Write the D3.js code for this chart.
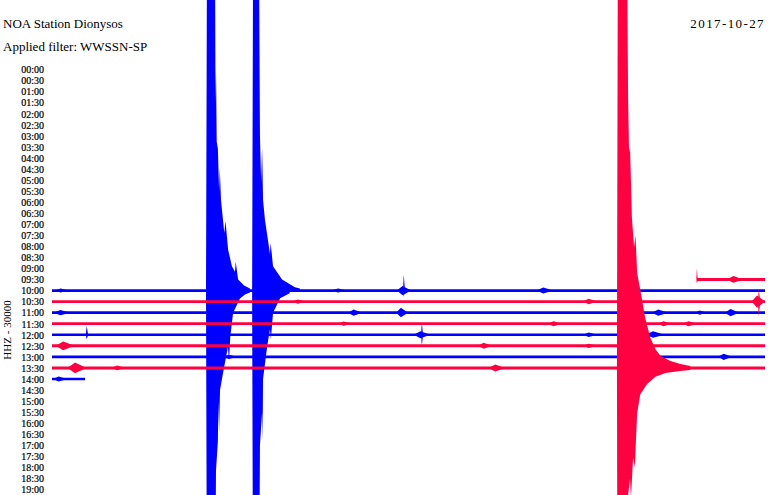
<!DOCTYPE html>
<html><head><meta charset="utf-8">
<script src="https://cdn.jsdelivr.net/npm/d3@7"></script>
<style>body{margin:0;background:#fff}svg{display:block}</style>
</head><body>
<svg id="chart" width="770" height="495"></svg>
<script>
// ---- data ----
const hourLabels = ["00:00","00:30","01:00","01:30","02:00","02:30","03:00","03:30","04:00","04:30",
  "05:00","05:30","06:00","06:30","07:00","07:30","08:00","08:30","09:00","09:30",
  "10:00","10:30","11:00","11:30","12:00","12:30","13:00","13:30","14:00","14:30",
  "15:00","15:30","16:00","16:30","17:00","17:30","18:00","18:30","19:00"];
// recorded rows (minutes into each 30-min line)
const traceRows  = ["09:30","10:00","10:30","11:00","11:30","12:00","12:30","13:00","13:30","14:00"];
const traceStart = [27.14, 0, 0, 0, 0, 0, 0, 0, 0, 0];
const traceEnd   = [30, 30, 30, 30, 30, 30, 30, 30, 30, 1.39];
const traceNoise = [125, 120, 125, 130, 125, 120, 140, 115, 135, 120]; // counts
// small bursts: [row, minute, up, down, half-width (min)]
const bursts = [
  ["09:30", 27.14, 1000, 360, 0.03], ["09:30", 28.74, 320, 300, 0.35],
  ["10:00", 0.42, 180, 180, 0.3], ["10:00", 12.1, 180, 180, 0.35], ["10:00", 14.81, 1450, 550, 0.04],
  ["10:00", 14.81, 420, 420, 0.3], ["10:00", 20.74, 280, 260, 0.35],
  ["10:30", 10.4, 190, 190, 0.3], ["10:30", 22.64, 260, 240, 0.3], ["10:30", 29.75, 1100, 1350, 0.05],
  ["10:30", 29.72, 550, 550, 0.28],
  ["11:00", 0.42, 230, 230, 0.35], ["11:00", 12.75, 280, 280, 0.3], ["11:00", 14.73, 450, 420, 0.25],
  ["11:00", 25.58, 280, 280, 0.35], ["11:00", 27.3, 200, 200, 0.25], ["11:00", 28.61, 320, 320, 0.3],
  ["11:30", 12.33, 200, 190, 0.3], ["11:30", 21.16, 220, 220, 0.3], ["11:30", 25.79, 220, 220, 0.3],
  ["11:30", 26.84, 220, 220, 0.3],
  ["12:00", 1.47, 800, 400, 0.05], ["12:00", 15.57, 1100, 1000, 0.04], ["12:00", 15.57, 320, 320, 0.35],
  ["12:00", 22.64, 200, 200, 0.3], ["12:00", 25.37, 320, 280, 0.4],
  ["12:30", 0.55, 400, 400, 0.4], ["12:30", 18.22, 270, 270, 0.3], ["12:30", 22.64, 190, 190, 0.3],
  ["13:00", 7.5, 190, 190, 0.3], ["13:00", 28.32, 280, 280, 0.3],
  ["13:30", 1.05, 480, 480, 0.4], ["13:30", 2.8, 220, 220, 0.3], ["13:30", 18.72, 320, 320, 0.35],
  ["14:00", 0.34, 220, 220, 0.3]
];
// large events: envelopes [minute, counts]
const quake1Row = "10:00";
const quake1Up   = [[6.48,0],[6.52,30000],[6.86,30000],[6.88,17000],[6.90,20000],[6.93,13500],[6.98,12800],[7.03,9000],[7.06,11000],[7.11,8200],[7.25,5200],[7.30,6300],[7.41,3700],[7.57,2200],[7.70,1700],[7.73,2600],[7.83,1000],[8.08,450],[8.33,180]];
const quake1Down = [[6.48,0],[6.52,30000],[6.86,30000],[6.90,16300],[6.98,13600],[7.00,10000],[7.03,12800],[7.07,9000],[7.15,8000],[7.40,5100],[7.45,6300],[7.50,4200],[7.62,2000],[7.91,720],[8.12,360],[8.33,180]];
const quake2Row = "10:00";
const quake2Up   = [[8.42,0],[8.46,30000],[8.71,30000],[8.75,14000],[8.80,9800],[8.84,12900],[8.88,8200],[8.96,6400],[9.09,4500],[9.17,3300],[9.20,4300],[9.30,2200],[9.68,1000],[10.22,300],[10.43,180]];
const quake2Down = [[8.42,0],[8.46,30000],[8.71,30000],[8.75,14000],[8.84,11000],[8.86,13600],[8.88,8000],[9.05,5100],[9.17,3500],[9.21,4400],[9.30,2000],[9.60,700],[10.0,250]];
const quake3Row = "13:30";
const quake3Up   = [[23.77,0],[23.81,40000],[24.19,40000],[24.24,24400],[24.28,19500],[24.32,20000],[24.40,13600],[24.49,10900],[24.55,12000],[24.62,8600],[24.75,7100],[24.96,4500],[25.18,2700],[25.39,1700],[25.60,1100],[26.02,630],[26.44,360],[26.86,180]];
const quake3Down = [[23.77,0],[23.81,40000],[24.19,40000],[24.24,11500],[24.32,10000],[24.36,11800],[24.45,8100],[24.52,9000],[24.62,4100],[24.75,2400],[25.04,1450],[25.39,810],[25.81,450],[26.44,270],[26.86,180]];

const stationTitle = "NOA Station Dionysos";
const filterText = "Applied filter: WWSSN-SP";
const dateText = "2017-10-27";
const channelText = "HHZ - 30000";

// ---- drawing ----
const BLUE = "#0000ff", RED = "#ff0040";
const colorOf = lbl => lbl.endsWith(":30") ? RED : BLUE;

const svg = d3.select("#chart");
const x = d3.scaleLinear().domain([0, 30]).range([52, 765]);
const y = d3.scalePoint().domain(hourLabels).range([69.5, 489.5]);
const amp = d3.scaleLinear().domain([0, 1000]).range([0, 11.05]);

svg.append("rect").attr("width", 770).attr("height", 495).attr("fill", "#fff");

const font = "'Liberation Serif', serif";
// row labels
const yAxis = d3.axisLeft(y).tickSize(0).tickPadding(0);
const ag = svg.append("g").attr("transform", "translate(44,0)").call(yAxis);
ag.select(".domain").remove();
ag.selectAll("text").attr("font-family", font).attr("font-size", 10)
  .attr("fill", "#000").attr("stroke", "#000").attr("stroke-width", 0.2).attr("dy", "0.33em");

svg.append("text").attr("transform", `translate(11,330) rotate(-90)`)
  .attr("text-anchor", "middle").attr("font-family", font)
  .attr("font-size", 11).attr("fill", "#000").text(channelText);

const areaUp = base => d3.area().x(d => x(d[0])).y0(base).y1(d => base - amp(d[1]));
const areaDown = base => d3.area().x(d => x(d[0])).y0(base).y1(d => base + amp(d[1]));

const quakes = [
  {row: quake1Row, up: quake1Up, down: quake1Down},
  {row: quake2Row, up: quake2Up, down: quake2Down},
  {row: quake3Row, up: quake3Up, down: quake3Down}
];

function drawRow(i) {
  const lbl = traceRows[i], base = y(lbl), col = colorOf(lbl);
  const g = svg.append("g").attr("fill", col).attr("stroke", "none");
  const n = traceNoise[i];
  // noisy baseline band
  g.append("path").attr("d", d3.area().x(d => x(d)).y0(base + amp(n)).y1(base - amp(n))([traceStart[i], traceEnd[i]]));
  // bursts (spindles)
  bursts.filter(b => b[0] === lbl).forEach(b => {
    const [_, t, u, dn, hw] = b;
    g.append("path").attr("d", areaUp(base)([[t - hw, 0], [t - hw * 0.2, u], [t + hw, 0]]));
    g.append("path").attr("d", areaDown(base)([[t - hw, 0], [t - hw * 0.2, dn], [t + hw, 0]]));
  });
  // large events
  quakes.filter(q => q.row === lbl).forEach(q => {
    g.append("path").attr("d", areaUp(base)(q.up));
    g.append("path").attr("d", areaDown(base)(q.down));
  });
}
// blue rows under red rows
traceRows.forEach((l, i) => { if (colorOf(l) === BLUE) drawRow(i); });
traceRows.forEach((l, i) => { if (colorOf(l) === RED) drawRow(i); });

// header texts
svg.append("text").attr("x", 3).attr("y", 28).attr("font-family", font).attr("font-size", 13).attr("fill", "#000").text(stationTitle);
svg.append("text").attr("x", 3).attr("y", 51).attr("font-family", font).attr("font-size", 13).attr("fill", "#000").text(filterText);
svg.append("text").attr("x", 765).attr("y", 28).attr("text-anchor", "end").attr("font-family", font)
  .attr("font-size", 13).attr("letter-spacing", 1.4).attr("fill", "#000").text(dateText);
</script>
</body></html>
